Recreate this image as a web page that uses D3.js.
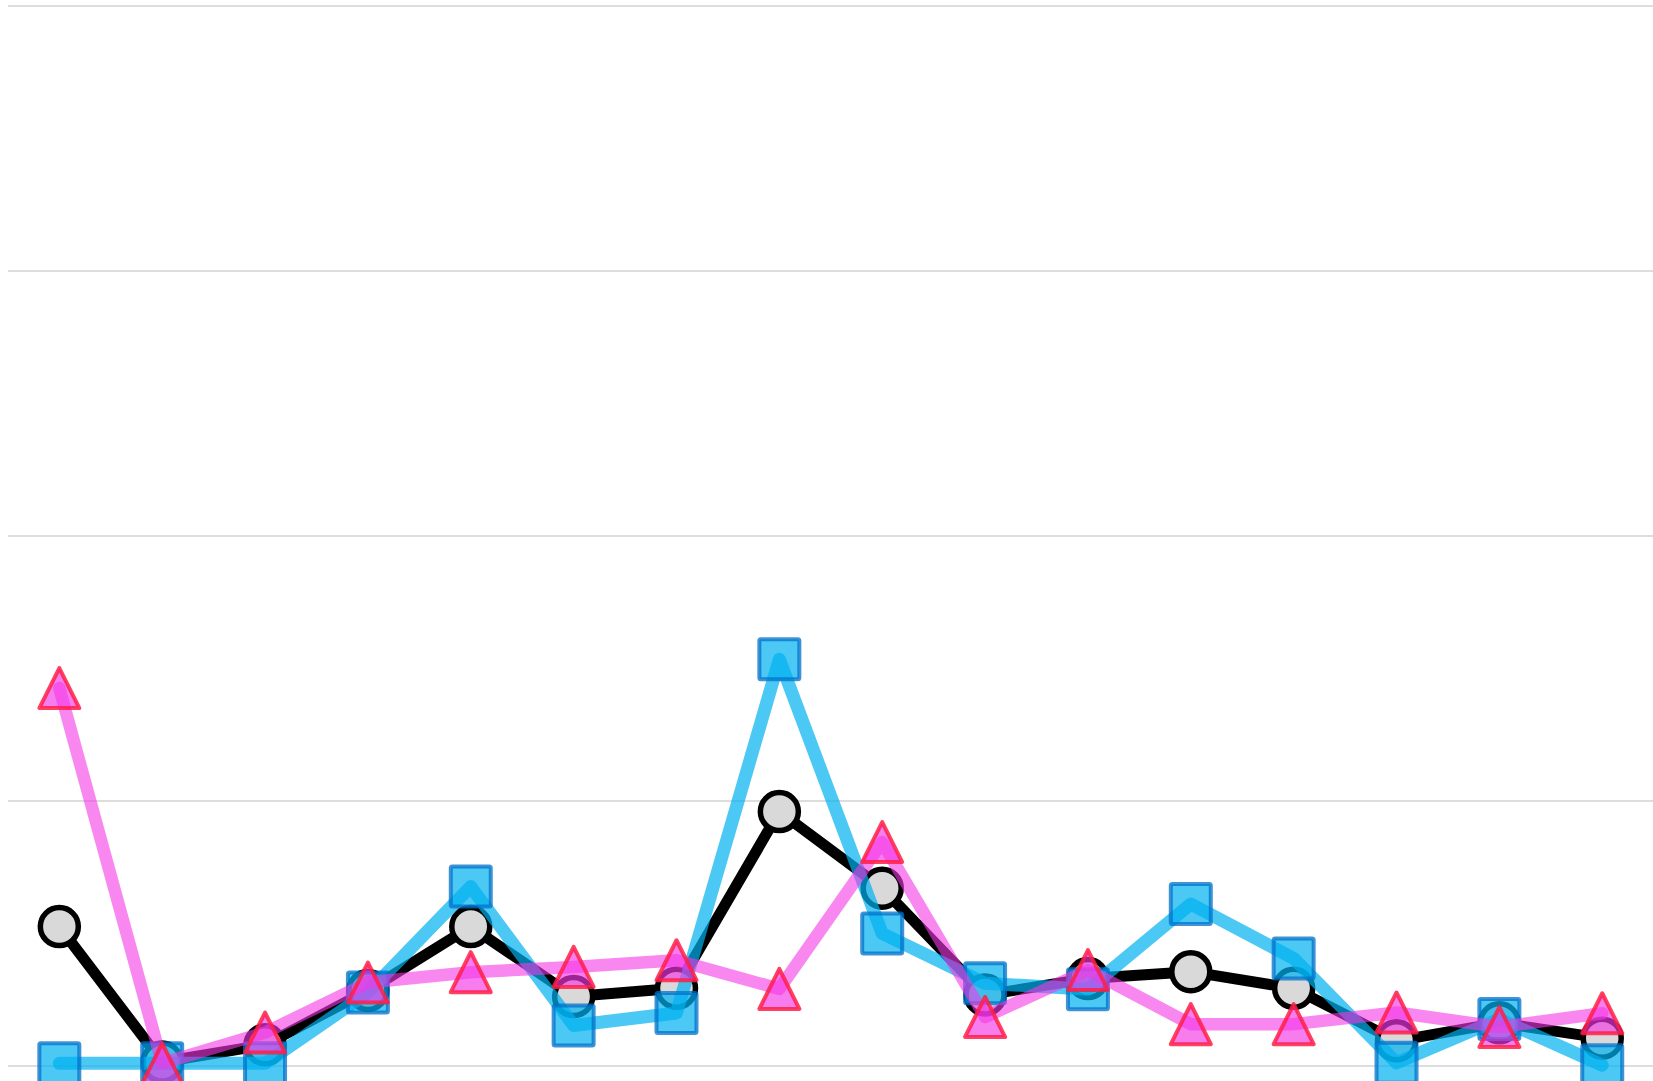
<!DOCTYPE html>
<html>
<head>
<meta charset="utf-8">
<script src="https://cdn.jsdelivr.net/npm/d3@7"></script>
<style>
  html, body { margin: 0; padding: 0; background: #ffffff; overflow: hidden; }
  svg { display: block; }
</style>
</head>
<body>
<svg id="chart" width="1653" height="1081"></svg>
<script>
const categories = ["1","2","3","4","5","6","7","8","9","10","11","12","13","14","15","16"];
const yTicks = [0, 1, 2, 3, 4];
const blackValues = [0.526, 0.015, 0.08, 0.285, 0.526, 0.262, 0.293, 0.960, 0.671, 0.268, 0.33, 0.356, 0.293, 0.095, 0.163, 0.105];
const blueValues  = [0.01, 0.01, 0.01, 0.277, 0.677, 0.153, 0.20, 1.535, 0.50, 0.312, 0.29, 0.611, 0.406, 0.012, 0.177, 0.003];
const pinkValues  = [1.426, 0.01, 0.126, 0.315, 0.354, 0.374, 0.399, 0.291, 0.845, 0.185, 0.362, 0.158, 0.158, 0.202, 0.147, 0.199];

const svg = d3.select("#chart");
const plotLeft = 7.9, band = 102.86;
const x = d3.scaleBand().domain(categories).range([plotLeft, plotLeft + band * categories.length]).padding(0);
const cx = c => x(c) + x.bandwidth() / 2;
const y = d3.scaleLinear().domain([0, 4]).range([1066, 6]);

// grid
svg.append("g").selectAll("line").data(yTicks).join("line")
  .attr("x1", 8).attr("x2", 1653)
  .attr("y1", d => y(d)).attr("y2", d => y(d))
  .attr("stroke", "#dddddd").attr("stroke-width", 2);

const line = d3.line().x(d => cx(d.c)).y(d => y(d.v));
const pts = vals => categories.map((c, i) => ({ c, v: vals[i] }));

// black series
svg.append("path").datum(pts(blackValues)).attr("d", line)
  .attr("fill", "none").attr("stroke", "#000").attr("stroke-width", 11)
  .attr("stroke-linejoin", "round").attr("stroke-linecap", "round");
svg.append("g").selectAll("circle").data(pts(blackValues)).join("circle")
  .attr("cx", d => cx(d.c)).attr("cy", d => y(d.v)).attr("r", 19)
  .attr("fill", "#d9d9d9").attr("stroke", "#000").attr("stroke-width", 5.5);

// blue series
svg.append("path").datum(pts(blueValues)).attr("d", line)
  .attr("fill", "none").attr("stroke", "rgb(0,176,241)").attr("stroke-opacity", 0.7)
  .attr("stroke-width", 13).attr("stroke-linejoin", "round").attr("stroke-linecap", "round");
svg.append("g").selectAll("rect").data(pts(blueValues)).join("rect")
  .attr("x", d => cx(d.c) - 20).attr("y", d => y(d.v) - 20)
  .attr("width", 40).attr("height", 40).attr("rx", 1.5)
  .attr("fill", "rgb(0,176,241)").attr("fill-opacity", 0.7)
  .attr("stroke", "rgb(0,112,200)").attr("stroke-opacity", 0.75).attr("stroke-width", 4);

// pink series
svg.append("path").datum(pts(pinkValues)).attr("d", line)
  .attr("fill", "none").attr("stroke", "rgb(243,55,230)").attr("stroke-opacity", 0.6)
  .attr("stroke-width", 12.5).attr("stroke-linejoin", "round").attr("stroke-linecap", "round");
const tri = () => { const p = d3.path(); p.moveTo(0, -20); p.lineTo(20, 20); p.lineTo(-20, 20); p.closePath(); return p.toString(); };
svg.append("g").selectAll("path").data(pts(pinkValues)).join("path")
  .attr("d", tri())
  .attr("transform", d => `translate(${cx(d.c)},${y(d.v)})`)
  .attr("fill", "rgb(243,55,230)").attr("fill-opacity", 0.65)
  .attr("stroke", "rgb(255,30,70)").attr("stroke-opacity", 0.85).attr("stroke-width", 4)
  .attr("stroke-linejoin", "round");
</script>
</body>
</html>
